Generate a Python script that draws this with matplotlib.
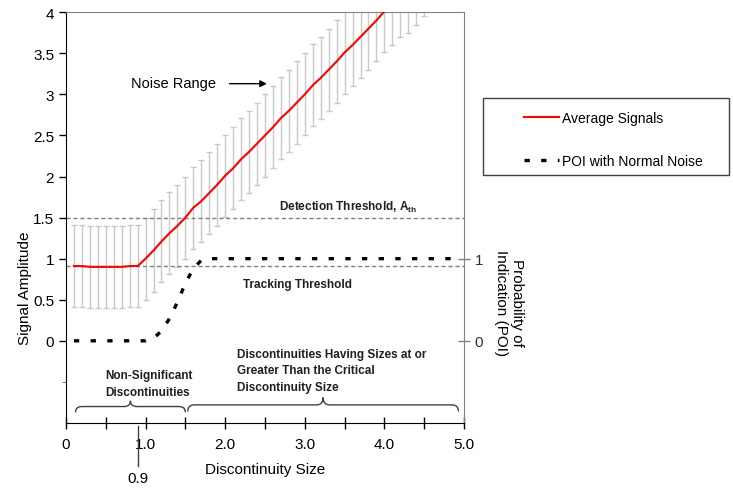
import matplotlib
matplotlib.use("Agg")
import matplotlib.pyplot as plt
from matplotlib.path import Path
from matplotlib.patches import PathPatch, Rectangle
from matplotlib.lines import Line2D
from matplotlib.transforms import blended_transform_factory

plt.rcParams['font.family'] = ['Liberation Sans', 'DejaVu Sans']
plt.rcParams['mathtext.fontset'] = 'custom'
plt.rcParams['mathtext.rm'] = 'Liberation Sans'

# discontinuity sizes (0.1 .. 4.9)
sizes = [0.1, 0.2, 0.3, 0.4, 0.5, 0.6, 0.7, 0.8, 0.9, 1.0,
         1.1, 1.2, 1.3, 1.4, 1.5, 1.6, 1.7, 1.8, 1.9, 2.0,
         2.1, 2.2, 2.3, 2.4, 2.5, 2.6, 2.7, 2.8, 2.9, 3.0,
         3.1, 3.2, 3.3, 3.4, 3.5, 3.6, 3.7, 3.8, 3.9, 4.0,
         4.1, 4.2, 4.3, 4.4, 4.5, 4.6, 4.7, 4.8, 4.9]
avg_signal = [0.91, 0.91, 0.90, 0.90, 0.90, 0.90, 0.90, 0.91, 0.91, 1.00,
              1.10, 1.21, 1.31, 1.40, 1.50, 1.62, 1.70, 1.80, 1.90, 2.01,
              2.10, 2.21, 2.30, 2.40, 2.50, 2.60, 2.71, 2.80, 2.90, 3.00,
              3.11, 3.20, 3.30, 3.40, 3.51, 3.60, 3.70, 3.80, 3.90, 4.01,
              4.10, 4.20, 4.25, 4.35, 4.45, 4.55, 4.65, 4.75, 4.85]
noise_half = 0.5
poi = [0, 0, 0, 0, 0, 0, 0, 0, 0, 0,
       0.03, 0.12, 0.27, 0.47, 0.70, 0.88, 0.98, 1, 1, 1,
       1, 1, 1, 1, 1, 1, 1, 1, 1, 1,
       1, 1, 1, 1, 1, 1, 1, 1, 1, 1,
       1, 1, 1, 1, 1, 1, 1, 1, 1]
detection_threshold = 1.5
tracking_threshold = 0.91
x_ticks = [0, 1, 2, 3, 4, 5]
x_ticklabels = ['0', '1.0', '2.0', '3.0', '4.0', '5.0']
y_ticks = [0, 0.5, 1, 1.5, 2, 2.5, 3, 3.5, 4]
y_ticklabels = ['0', '0.5', '1', '1.5', '2', '2.5', '3', '3.5', '4']

fig = plt.figure(figsize=(7.33, 4.89), dpi=100)
ax = fig.add_axes([0.090, 0.133, 0.543, 0.840])

# noise range error bars
ax.errorbar(sizes, avg_signal, yerr=noise_half, fmt='none', ecolor='#c8c8c8',
            elinewidth=1.0, capsize=2.4, capthick=1.0, zorder=1)
ax.plot(sizes, avg_signal, color='red', lw=1.5, zorder=3, label='Average Signals')
ax.axhline(detection_threshold, color='#808080', lw=1.0, ls=(0, (3, 2)), zorder=2)
ax.axhline(tracking_threshold, color='#808080', lw=1.0, ls=(0, (3, 2)), zorder=2)
ax.plot(sizes, poi, color='black', lw=2.4, ls=(0, (1.6, 3.4)), zorder=4,
        label='POI with Normal Noise')

ax.set_xlim(0, 5)
ax.set_ylim(-1, 4)
ax.set_xticks(x_ticks)
ax.set_xticklabels(x_ticklabels, fontsize=11)
ax.set_xticks([0.5, 1.5, 2.5, 3.5, 4.5], minor=True)
ax.tick_params(axis='x', which='both', direction='inout', length=8, width=1, pad=6)
ax.set_yticks(y_ticks)
ax.set_yticklabels(y_ticklabels, fontsize=11)
ax.set_yticks([-0.5], minor=True)
ax.tick_params(axis='y', direction='out', length=5, width=1)
ax.tick_params(axis='y', which='minor', direction='out', length=3, width=0.8, color='#808080')
for s in ['top', 'right']:
    ax.spines[s].set_color('#808080')
ax.set_xlabel('Discontinuity Size', fontsize=11, labelpad=8)
ax.set_ylabel('Signal Amplitude', fontsize=11)
ax.yaxis.set_label_coords(-0.085, 0.33)

# right axis for POI
ax2 = ax.twinx()
ax2.set_ylim(-1, 4)
ax2.set_yticks([0, 1])
ax2.set_yticklabels(['0', '1'], fontsize=11, color='#303030')
ax2.tick_params(axis='y', direction='inout', length=8, width=1, color='#808080')
for s in ['top', 'right', 'left', 'bottom']:
    ax2.spines[s].set_visible(False)
fig.text(0.694, 0.38, 'Probability of\nIndication (POI)', rotation=-90,
         ha='center', va='center', fontsize=11, multialignment='center')

# annotations
ax.text(2.67, 1.64, r'Detection Threshold, A$_{\mathregular{th}}$', fontsize=8.5,
        fontweight='bold', color='#202020', va='center')
ax.text(2.22, 0.69, 'Tracking Threshold', fontsize=8.5, fontweight='bold',
        color='#202020', va='center')
ax.text(0.82, 3.14, 'Noise Range', fontsize=10.5, va='center')
ax.annotate('', xy=(2.56, 3.13), xytext=(2.02, 3.13),
            arrowprops=dict(arrowstyle='-|>', color='black', lw=1, mutation_scale=10))
ax.text(0.49, -0.52, 'Non-Significant\nDiscontinuities', fontsize=8.5,
        fontweight='bold', color='#202020', va='center', linespacing=1.5)
ax.text(2.15, -0.36, 'Discontinuities Having Sizes at or\nGreater Than the Critical\nDiscontinuity Size',
        fontsize=8.5, fontweight='bold', color='#202020', va='center', linespacing=1.5)


def brace(ax, x0, x1, xt, ye, yb, yt, dx=0.08):
    verts = [(x0, ye), (x0, yb), (x0 + dx, yb), (xt - dx, yb), (xt, yb), (xt, yt),
             (xt, yb), (xt + dx, yb), (x1 - dx, yb), (x1, yb), (x1, ye)]
    codes = [Path.MOVETO, Path.CURVE3, Path.CURVE3, Path.LINETO, Path.CURVE3, Path.CURVE3,
             Path.CURVE3, Path.CURVE3, Path.LINETO, Path.CURVE3, Path.CURVE3]
    ax.add_patch(PathPatch(Path(verts, codes), fill=False, edgecolor='#404040', lw=1))


brace(ax, 0.12, 1.50, 0.81, -0.87, -0.80, -0.73)
brace(ax, 1.53, 4.93, 3.23, -0.86, -0.78, -0.69)

# 0.9 marker below axis
trans = blended_transform_factory(ax.transData, ax.transAxes)
ax.plot([0.9, 0.9], [-0.007, -0.104], color='#404040', lw=1, transform=trans, clip_on=False)
ax.text(0.9, -0.133, '0.9', transform=trans, ha='center', va='center', fontsize=11)

# legend box
fig.add_artist(Rectangle((0.659, 0.640), 0.336, 0.158, transform=fig.transFigure,
                         fill=False, edgecolor='#404040', lw=1))
handles = [Line2D([], [], color='red', lw=1.5),
           Line2D([], [], color='black', lw=2.4, ls=(0, (1.6, 3.4)))]
fig.legend(handles, ['Average Signals', 'POI with Normal Noise'], loc='upper left',
           bbox_to_anchor=(0.706, 0.785), frameon=False, fontsize=10,
           handlelength=2.5, handletextpad=0.2, labelspacing=2.1, borderpad=0)

fig.savefig('out.png', dpi=100)
